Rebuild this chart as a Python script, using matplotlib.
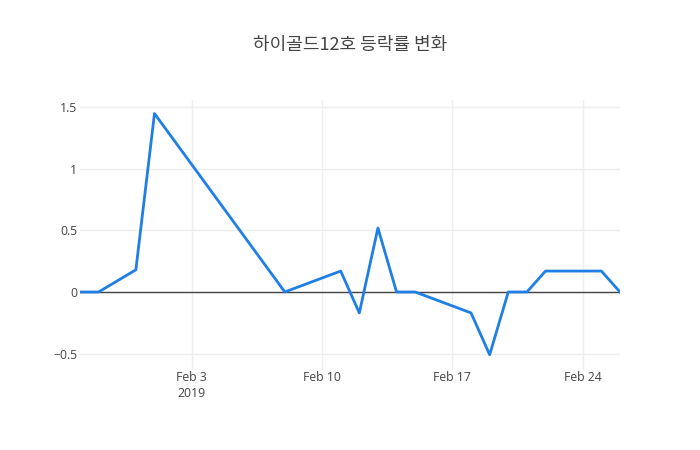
import numpy as np
import pandas as pd
import matplotlib
matplotlib.use("Agg")
import matplotlib.pyplot as plt
import matplotlib.dates as mdates

# daily change rate (%) for 하이골드12호
dates = ["2019-01-28", "2019-01-29", "2019-01-31", "2019-02-01", "2019-02-08",
         "2019-02-11", "2019-02-12", "2019-02-13", "2019-02-14", "2019-02-15",
         "2019-02-18", "2019-02-19", "2019-02-20", "2019-02-21", "2019-02-22",
         "2019-02-25", "2019-02-26"]
rates = [0, 0, 0.18, 1.45, 0,
         0.17, -0.17, 0.52, 0, 0,
         -0.17, -0.51, 0, 0, 0.17,
         0.17, 0]
yticks = [-0.5, 0, 0.5, 1, 1.5]
ytick_labels = ["\u22120.5", "0", "0.5", "1", "1.5"]
xticks = ["2019-02-03", "2019-02-10", "2019-02-17", "2019-02-24"]
xtick_labels = ["Feb 3\n2019", "Feb 10", "Feb 17", "Feb 24"]
title = "하이골드12호 등락률 변화"

x = pd.to_datetime(dates)

fig = plt.figure(figsize=(7, 4.5), dpi=100)
ax = fig.add_axes([80/700, 80/450, 540/700, 270/450])

ax.plot(x, rates, color="#1f7fe5", linewidth=2, zorder=3)
ax.axhline(0, color="#444444", linewidth=1, zorder=2)

ax.set_xlim(x[0], x[-1])
ax.set_ylim(-0.634, 1.56)
ax.set_yticks(yticks)
ax.set_yticklabels(ytick_labels)
ax.set_xticks(pd.to_datetime(xticks))
ax.set_xticklabels(xtick_labels, linespacing=1.25)

ax.grid(True, color="#eeeeee", linewidth=1, zorder=0)
for s in ax.spines.values():
    s.set_visible(False)
ax.tick_params(length=0, labelsize=8.8, colors="#444444")
for lbl in ax.get_xticklabels() + ax.get_yticklabels():
    lbl.set_family(["Open Sans", "DejaVu Sans"])
ax.tick_params(axis="x", pad=1)
ax.tick_params(axis="y", pad=2)

fig.text(0.5, 1 - 45/450, title, ha="center", va="center",
         fontsize=13, color="#444444", family=["Noto Sans CJK KR", "DejaVu Sans"])

fig.savefig("out.png", dpi=100)
